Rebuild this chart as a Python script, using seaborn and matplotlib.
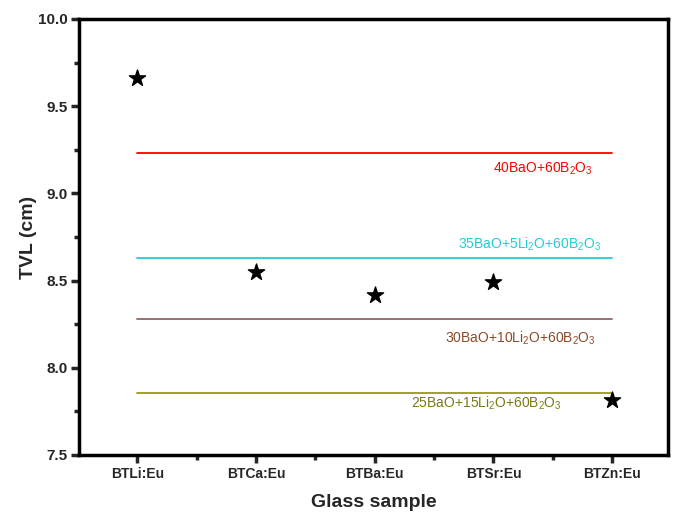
import matplotlib
matplotlib.use("Agg")
import matplotlib.pyplot as plt
import seaborn as sns
import pandas as pd
from matplotlib.ticker import MultipleLocator

samples = ["BTLi:Eu", "BTCa:Eu", "BTBa:Eu", "BTSr:Eu", "BTZn:Eu"]
tvl = [9.66, 8.55, 8.42, 8.49, 7.815]

ref_names = ["40BaO+60B$_2$O$_3$", "35BaO+5Li$_2$O+60B$_2$O$_3$",
             "30BaO+10Li$_2$O+60B$_2$O$_3$", "25BaO+15Li$_2$O+60B$_2$O$_3$"]
ref_values = [9.232, 8.630, 8.280, 7.855]
line_colors = ["#ff0000", "#1ccfd6", "#8c6464", "#9a9a10"]
text_colors = ["#ff0000", "#1ccfd6", "#8b4a2a", "#7a7a10"]

sns.set_style("white")
plt.rcParams['font.family'] = ['Liberation Sans', 'DejaVu Sans']
plt.rcParams['mathtext.fontset'] = 'custom'
plt.rcParams['mathtext.rm'] = 'Liberation Sans'
plt.rcParams['mathtext.it'] = 'Liberation Sans'
plt.rcParams['mathtext.default'] = 'regular'

fig = plt.figure(figsize=(6.8, 5.12), dpi=100)
ax = fig.add_axes([79/680, 1 - 455/512, (668-79)/680, (455-19)/512])

# reference lines
for name, val, lc in zip(ref_names, ref_values, line_colors):
    df_l = pd.DataFrame({"x": samples, "y": [val]*len(samples)})
    sns.lineplot(data=df_l, x="x", y="y", ax=ax, color=lc, linewidth=1.3, sort=False)

df = pd.DataFrame({"sample": samples, "tvl": tvl})
sns.scatterplot(data=df, x="sample", y="tvl", ax=ax, marker="*", s=150,
                color="black", edgecolor="black", zorder=5)

label_pos = [(3.42, ref_values[0] - 0.09), (3.3, ref_values[1] + 0.08),
             (3.23, ref_values[2] - 0.11), (2.94, ref_values[3] - 0.06)]
for name, val, tc, (lx, ly) in zip(ref_names, ref_values, text_colors, label_pos):
    ax.text(lx, ly, name, color=tc, fontsize=10, ha="center", va="center")

ax.set_xlim(-0.49, 4.47)
ax.set_ylim(7.5, 10.0)
ax.yaxis.set_major_locator(MultipleLocator(0.5))
ax.yaxis.set_minor_locator(MultipleLocator(0.25))
ax.xaxis.set_minor_locator(MultipleLocator(0.5))

for sp in ax.spines.values():
    sp.set_linewidth(2.5)
    sp.set_color("black")

ax.tick_params(axis="both", which="major", direction="out", length=6, width=2.5,
               bottom=True, left=True, top=False, right=False)
ax.tick_params(axis="both", which="minor", direction="out", length=3.5, width=2.5,
               bottom=True, left=True)
ax.tick_params(axis="x", labelsize=10, pad=3)
ax.tick_params(axis="y", labelsize=11, pad=2)
for lbl in ax.get_xticklabels() + ax.get_yticklabels():
    lbl.set_fontweight("bold")

ax.set_xlabel("Glass sample", fontsize=14, fontweight="bold", labelpad=9)
ax.set_ylabel("TVL (cm)", fontsize=14, fontweight="bold", labelpad=1)

fig.savefig("out.png", dpi=100)
